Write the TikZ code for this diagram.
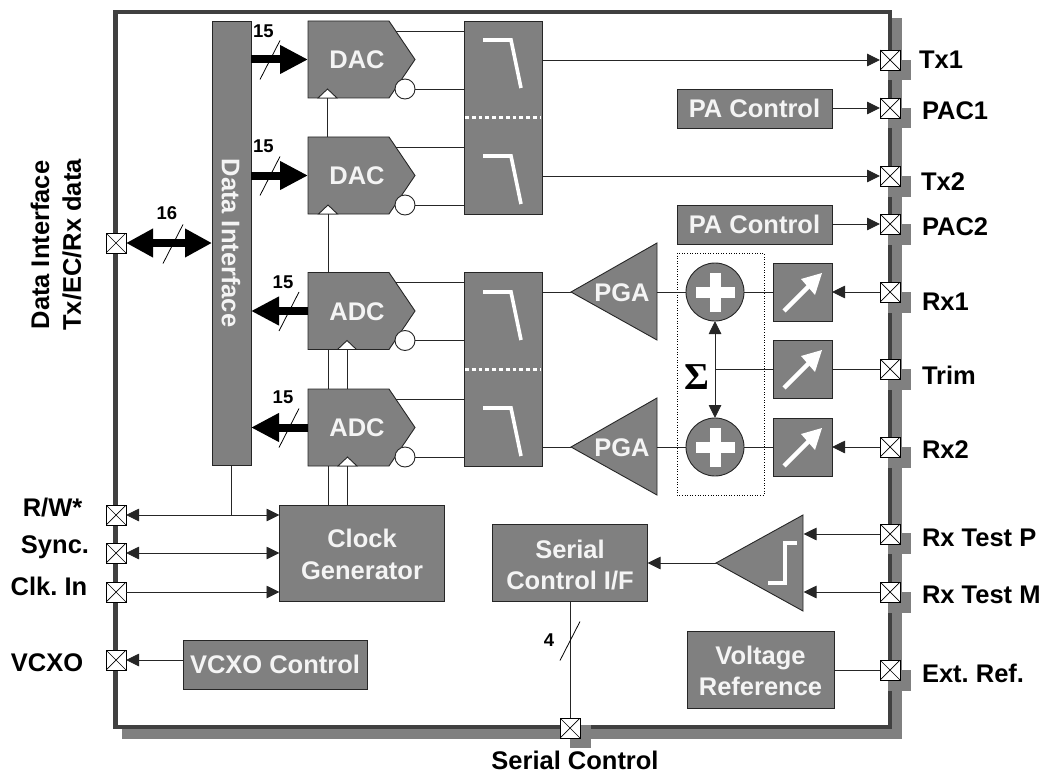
\documentclass[tikz,border=0pt]{standalone}
\usepackage{fontspec}
\setmainfont{Liberation Sans}
\newfontfamily\sigmafont{Liberation Serif}
\usetikzlibrary{arrows.meta,shapes.geometric}
\definecolor{blk}{HTML}{808080}
\definecolor{edge}{HTML}{262626}
\definecolor{wtxt}{HTML}{F4F4F4}
\definecolor{frame}{HTML}{404040}
\newcommand{\mainfs}{\fontsize{25.5}{31.5}\selectfont\bfseries\frenchspacing}
\newcommand{\smallfs}{\fontsize{18.5}{22}\selectfont\bfseries}
\tikzset{
  block/.style={draw=edge,fill=blk,line width=0.9pt,inner sep=0pt,outer sep=0pt,text=wtxt,font=\mainfs,align=center},
  ghost/.style={inner sep=0pt,outer sep=0pt,text=wtxt,font=\mainfs,align=center},
  shapeline/.style={draw=edge,fill=blk,line width=0.9pt,line join=miter},
  pad/.style={draw=black,fill=white,line width=0.9pt,minimum size=20pt,inner sep=0pt,outer sep=0pt,
    path picture={\draw[line width=0.7pt] (path picture bounding box.north west)--(path picture bounding box.south east)
      (path picture bounding box.north east)--(path picture bounding box.south west);}},
  wire/.style={draw=edge,line width=0.9pt},
  sarrow/.style={wire,-{Triangle[length=13pt,width=12.5pt]}},
  sboth/.style={wire,{Triangle[length=13pt,width=12.5pt]}-{Triangle[length=13pt,width=12.5pt]}},
  bus/.style={draw=black,line width=8pt,-{Triangle[length=28pt,width=27pt]}},
  busboth/.style={draw=black,line width=8pt,{Triangle[length=27pt,width=27pt]}-{Triangle[length=27pt,width=27pt]}},
  tick/.style={draw=black,line width=0.8pt},
  lab/.style={inner sep=0pt,outer sep=0pt,font=\mainfs,text=black,align=center},
  slab/.style={inner sep=0pt,outer sep=0pt,font=\smallfs,text=black},
  wsym/.style={draw=white,line width=3.6pt,line join=miter},
  bump/.style={fill=blk,draw=none}
}
% converter: name, centre y, clock x, text
\newcommand{\conv}[4]{%
  \draw[shapeline] (308,#2-38.5) -- (389,#2-38.5) -- (415,#2) -- (389,#2+38.5) -- (308,#2+38.5) -- cycle;
  \node[ghost,minimum width=98pt,minimum height=77pt] (#1) at (357,#2) {};
  \node[ghost] (#1txt) at (357,#2+0.5) {#4};
  \node[draw=edge,fill=white,circle,line width=0.9pt,minimum size=20pt,inner sep=0pt,outer sep=0pt] (#1b) at (405,#2+29.5) {};
  \draw[draw=edge,fill=white,line width=0.9pt] (#3-9.5,#2+38.5) -- (#3,#2+29.5) -- (#3+9.5,#2+38.5) -- cycle;
  \coordinate (#1top) at (396,#2-28.5);
  \coordinate (#1ck) at (#3,#2+38.5);
}
\newcommand{\fsym}[1]{\draw[wsym] (483,#1-19) -- (511,#1-19) -- (521,#1+29);}
\newcommand{\slashmark}[2]{\draw[tick] (#1-10,#2+20) -- (#1+10,#2-19);}
\newcommand{\plus}[2]{\fill[white] (#1-19.5,#2-5.5) rectangle (#1+19.5,#2+5.5); \fill[white] (#1-5.5,#2-19.5) rectangle (#1+5.5,#2+19.5);}
\newcommand{\amp}[3]{%
  \node[block,minimum width=59pt,minimum height=58pt] (#1) at (802.5,#2) {};
  \draw[draw=white,line width=4.5pt] (784,#2+19) -- (812,#2-9);
  \fill[white] (822,#2-19) -- (801,#2-13) -- (815,#2+3) -- cycle;
}
\begin{document}
\begin{tikzpicture}[x=1pt,y=-1pt]
\useasboundingbox (0,0) rectangle (1044,773);
% chassis
\fill[blk] (892,18) rectangle (902,739);
\fill[blk] (122,729) rectangle (902,739);
\draw[draw=frame,line width=4.3pt,line join=miter] (115.5,11.7) rectangle (889.7,727);
\foreach \py in {60,108,176,224,292,369,447,533,592,670}{\fill[bump] (888,\py) rectangle (910.5,\py+20.5);}
\fill[bump] (570,725) rectangle (591,748);
% data interface
\node[block,minimum width=39pt,minimum height=444pt] (di) at (231.5,243) {};
\node[ghost,rotate=-90] (ditext) at (231,243) {Data Interface};
% converters
\conv{dac1}{59.5}{327.5}{DAC}
\conv{dac2}{175.5}{328}{DAC}
\conv{adc1}{311}{347}{ADC}
\conv{adc2}{427.5}{347.5}{ADC}
% filters
\node[block,minimum width=78pt,minimum height=193pt] (f1) at (503,117.5) {};
\node[block,minimum width=78pt,minimum height=194pt] (f2) at (503,369) {};
\draw[draw=white,line width=3.4pt,dash pattern=on 3.8pt off 3pt] (465,117.7) -- (541,117.7);
\draw[draw=white,line width=3.4pt,dash pattern=on 3.8pt off 3pt] (465,369.7) -- (541,369.7);
\fsym{59}\fsym{175}\fsym{311}\fsym{427}
% converter to filter wires
\foreach \cv/\fl in {dac1/f1,dac2/f1,adc1/f2,adc2/f2}{
  \draw[wire] (\cv top) -- (\fl.west |- \cv top);
  \draw[wire] (\cv b.east) -- (\fl.west |- \cv b.east);
}
% clocks
\node[block,minimum width=165pt,minimum height=96pt] (clk) at (362,553) {};
\node[ghost] (clktxt) at (362,554.5) {Clock\\Generator};
\coordinate (dac2topck) at (327.5,137);
\coordinate (adc1topck) at (328,272.5);
\coordinate (dac2botck) at (328,214);
\coordinate (adc1botA) at (328,349.5);
\coordinate (adc2topA) at (328,389);
\coordinate (adc2botA) at (328,466);
\coordinate (adc2topB) at (347,389);
\draw[wire] (dac1ck) -- (dac2topck);
\draw[wire] (dac2botck) -- (adc1topck);
\draw[wire] (adc1botA) -- (adc2topA);
\draw[wire] (adc1ck) -- (adc2topB);
\draw[wire] (adc2botA) -- (clk.north -| adc2botA);
\draw[wire] (adc2ck) -- (clk.north -| adc2ck);
% PA
\node[block,minimum width=155pt,minimum height=39pt] (pa1) at (754.5,108.5) {PA Control};
\node[block,minimum width=155pt,minimum height=39pt] (pa2) at (754.5,224.5) {PA Control};
% PGAs
\draw[shapeline] (571,292) -- (657,243) -- (657,340) -- cycle;
\draw[shapeline] (571,447) -- (657,398) -- (657,495) -- cycle;
\node[ghost,minimum width=50pt] (pga1) at (622,293) {PGA};
\node[ghost,minimum width=50pt] (pga2) at (622,448) {PGA};
\coordinate (pga1tip) at (571,292);
\coordinate (pga2tip) at (571,447);
\coordinate (pga1r) at (657,292);
\coordinate (pga2r) at (657,447);
\draw[wire] (f2.east |- pga1tip) -- (pga1tip);
\draw[wire] (f2.east |- pga2tip) -- (pga2tip);
% summing
\draw[draw=black,line width=0.6pt,dotted] (677,253) rectangle (764,495);
\node[block,circle,minimum size=58pt] (s1) at (715,292) {};
\node[block,circle,minimum size=58pt] (s2) at (715,447) {};
\plus{715}{292}\plus{715}{447}
\draw[wire] (pga1r) -- (s1.west);
\draw[wire] (pga2r) -- (s2.west);
\node[inner sep=0pt,font=\sigmafont\fontsize{38}{40}\selectfont\bfseries] (sig) at (697,377) {Σ};
\amp{a1}{292}{}
\amp{a2}{369}{}
\amp{a3}{447}{}
\draw[wire] (s1.east) -- (a1.west);
\draw[wire] (s2.east) -- (a3.west);
\coordinate (sj) at (715,369);
\draw[wire] (a2.west) -- (sj);
\draw[sboth] (s1.south) -- (s2.north);
% comparator, serial, vcxo, reference
\draw[shapeline] (716,563) -- (803,515) -- (803,611) -- cycle;
\draw[wsym] (768,583) -- (785,583) -- (785,543) -- (797,543);
\coordinate (cmptip) at (716,563);
\node[block,minimum width=155pt,minimum height=77pt] (ser) at (570,562.5) {};
\node[ghost] (sertxt) at (570,565) {Serial\\Control I/F};
\node[block,minimum width=147pt,minimum height=77pt] (vref) at (760.5,669.5) {};
\node[ghost] (vreftxt) at (760.5,671) {Voltage\\Reference};
\node[block,minimum width=184pt,minimum height=49pt] (vcxo) at (275,664.5) {VCXO Control};
\draw[sarrow] (cmptip) -- (ser.east |- cmptip);
% pads
\node[pad] (ptx1) at (890,60) {};
\node[pad] (ppac1) at (890,108) {};
\node[pad] (ptx2) at (890,176) {};
\node[pad] (ppac2) at (890,224) {};
\node[pad] (prx1) at (890,292) {};
\node[pad] (ptrim) at (890,369) {};
\node[pad] (prx2) at (890,447) {};
\node[pad] (ptp) at (890,534) {};
\node[pad] (ptm) at (890,592) {};
\node[pad] (pref) at (890,670) {};
\node[pad] (pdata) at (116,243) {};
\node[pad] (prw) at (116,515) {};
\node[pad] (psync) at (116,553) {};
\node[pad] (pclk) at (116,592) {};
\node[pad] (pvcxo) at (116,660) {};
\node[pad] (pser) at (570,728) {};
% pad wires
\draw[sarrow] (f1.east |- ptx1) -- (ptx1.west);
\draw[sarrow] (f1.east |- ptx2) -- (ptx2.west);
\draw[sarrow] (pa1.east |- ppac1) -- (ppac1.west);
\draw[sarrow] (pa2.east |- ppac2) -- (ppac2.west);
\draw[sarrow] (prx1.west) -- (a1.east);
\draw[wire] (ptrim.west) -- (a2.east);
\draw[sarrow] (prx2.west) -- (a3.east);
\draw[sarrow] (ptp.west) -- (803.5,534);
\draw[sarrow] (ptm.west) -- (803.5,592);
\draw[wire] (pref.west) -- (vref.east |- pref);
\draw[sboth] (prw.east) -- (clk.west |- prw);
\draw[sboth] (psync.east) -- (clk.west |- psync);
\draw[sarrow] (pclk.east) -- (clk.west |- pclk);
\draw[sarrow] (vcxo.west |- pvcxo) -- (pvcxo.east);
\coordinate (rwj) at (231.5,515);
\draw[wire] (di.south) -- (rwj);
\draw[wire] (ser.south) -- (pser.north);
% buses
\draw[bus] (di.east |- dac1) -- (dac1.west);
\draw[bus] (di.east |- dac2) -- (dac2.west);
\draw[bus] (adc1.west) -- (di.east |- adc1);
\draw[bus] (adc2.west) -- (di.east |- adc2);
\draw[busboth] (pdata.east) -- (di.west |- pdata);
\slashmark{270}{59.5}\slashmark{270}{175.5}\slashmark{289}{311}\slashmark{289}{427.5}\slashmark{173}{243.5}\slashmark{570}{640.5}
\node[slab] (n1) at (263.5,31) {15};
\node[slab] (n2) at (263.5,146) {15};
\node[slab] (n3) at (283,282) {15};
\node[slab] (n4) at (283,397) {15};
\node[slab] (n5) at (167,213) {16};
\node[slab] (n6) at (549,640) {4};
% outer labels
\node[lab,anchor=west] (ltx1) at (919,60) {Tx1};
\node[lab,anchor=west] (lpac1) at (922,111) {PAC1};
\node[lab,anchor=west] (ltx2) at (921,182) {Tx2};
\node[lab,anchor=west] (lpac2) at (922,227) {PAC2};
\node[lab,anchor=west] (lrx1) at (922,302) {Rx1};
\node[lab,anchor=west] (ltrim) at (922,375) {Trim};
\node[lab,anchor=west] (lrx2) at (922,450) {Rx2};
\node[lab,anchor=west] (ltp) at (922,538) {Rx Test P};
\node[lab,anchor=west] (ltm) at (922,595) {Rx Test M};
\node[lab,anchor=west] (lref) at (922,673) {Ext. Ref.};
\node[lab] (lrw) at (52.5,508) {R/W*};
\node[lab] (lsync) at (55,547) {Sync.};
\node[lab] (lclk) at (49,586) {Clk. In};
\node[lab] (lvcxo) at (47,663) {VCXO};
\node[lab] (lser) at (575,760.5) {Serial Control};
\node[lab,rotate=90] (ldata) at (40,245) {Data Interface};
\node[lab,rotate=90] (ltxec) at (72,245) {Tx/EC/Rx data};
\end{tikzpicture}
\end{document}
